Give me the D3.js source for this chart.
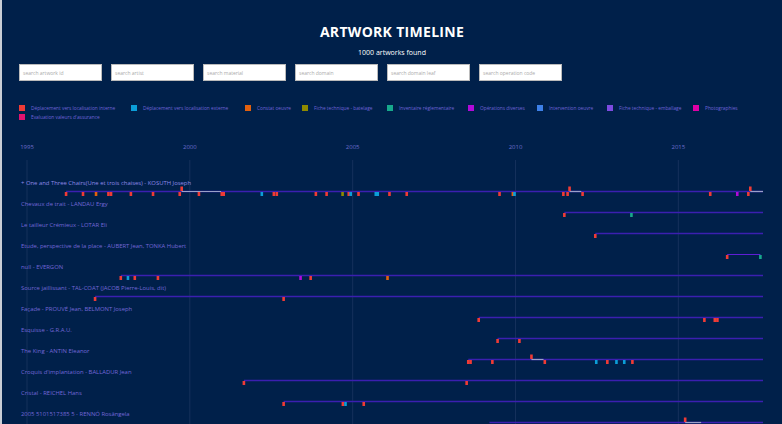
<!DOCTYPE html>
<html>
<head>
<meta charset="utf-8">
<script src="https://cdn.jsdelivr.net/npm/d3@7"></script>
<style>
  body { margin: 0; background: #00204a; font-family: "Open Sans", sans-serif; overflow: hidden; }
  #page { width: 782px; height: 424px; position: relative; border-left: 2px solid #c9ced6; box-sizing: border-box; }
  h1 { position: absolute; top: 22px; width: 100%; margin: 0; text-align: center; color: #fff; font-size: 14px; font-weight: 700; letter-spacing: 0.3px; }
  .count { position: absolute; top: 48px; width: 100%; text-align: center; color: #fff; font-size: 7px; }
  .search { position: absolute; top: 64px; height: 17px; width: 83px; background: #fff; border: 1px solid #bbb; box-sizing: border-box; font-size: 5px; color: #aaa; padding: 5px 3px; }
</style>
</head>
<body>
<div id="page">
  <h1>ARTWORK TIMELINE</h1>
  <div class="count">1000 artworks found</div>
  <svg id="chart" width="780" height="424" style="position:absolute;left:0;top:0"></svg>
</div>
<script>
const searchLabels = ["search artwork id", "search artist", "search material", "search domain", "search domain leaf", "search operation code"];

const eventTypes = ["Déplacement vers localisation interne", "Déplacement vers localisation externe", "Constat oeuvre", "Fiche technique - batelage", "Inventaire réglementaire", "Opérations diverses", "Intervention oeuvre", "Fiche technique - emballage", "Photographies", "Evaluation valeurs d'assurance"];
const eventColors = ["#ef3b36", "#0b9ed8", "#e2600e", "#8f8a00", "#17a98c", "#b10ad9", "#3d80e8", "#7d4be0", "#e000a6", "#e3136f"];

const years = [1995, 2000, 2005, 2010, 2015];

const artworks = ["+ One and Three Chairs(Une et trois chaises) - KOSUTH Joseph", "Chevaux de trait - LANDAU Ergy", "Le tailleur Crémieux - LOTAR Eli", "Etude, perspective de la place - AUBERT Jean, TONKA Hubert", "null - EVERGON", "Source jaillissant - TAL-COAT (JACOB Pierre-Louis, dit)", "Façade - PROUVÉ Jean, BELMONT Joseph", "Esquisse - G.R.A.U.", "The King - ANTIN Eleanor", "Croquis d'implantation - BALLADUR Jean", "Cristal - REICHEL Hans", "2005 5101517385 5 - RENNÓ Rosângela"];

// events per artwork: [decimal year, type index, span end (optional)]
const events = [
  [[1996.2,0],[1996.72,0],[1997.12,2],[1997.5,0],[1997.58,0],[1998.19,0],[1998.87,0],[1999.69,0],[1999.75,0,2000.96],[2000.28,0],[2000.98,0],[2001.04,0],[2002.21,1],[2002.58,0],[2002.67,0],[2003.87,0],[2004.2,0],[2004.69,3],[2004.88,0],[2004.94,1],[2005.18,0],[2005.71,1],[2005.77,1],[2006.13,0],[2006.66,0],[2009.51,0],[2009.92,2],[2009.97,1],[2011.47,0],[2011.6,0],[2011.66,0,2012.02],[2012.06,0],[2015.98,0],[2016.81,5],[2017.15,0],[2017.21,0,2017.6]],
  [[2011.5,0],[2013.56,4]],
  [[2012.45,0]],
  [[2016.5,0],[2017.52,4]],
  [[1997.88,0],[1998.1,1],[1998.31,0],[1999.02,0],[2003.4,5],[2003.71,0],[2006.07,2]],
  [[1997.09,0],[2002.88,0]],
  [[2008.87,0],[2015.8,0],[2016.12,0],[2016.2,0]],
  [[2009.45,0],[2010.12,0]],
  [[2008.55,0],[2008.62,0],[2009.29,0],[2010.49,0,2010.86],[2010.9,0],[2012.48,1],[2012.82,0],[2013.1,1],[2013.34,1],[2013.59,0]],
  [[2001.66,0],[2008.5,0]],
  [[2002.88,0],[2004.7,0],[2004.78,1],[2005.34,0]],
  [[2009.2,null],[2015.21,0,2015.7]]
];

const svg = d3.select("#chart");

// search boxes
d3.select("#page").selectAll("div.search").data(searchLabels).enter()
  .append("div").attr("class", "search")
  .style("left", function (d, i) { return (17 + i * 92) + "px"; })
  .text(function (d) { return d; });

// legend
const legendX = [17, 129, 243, 300, 385, 466, 535, 605, 691, 17];
const legend = svg.selectAll(".legend").data(eventTypes).enter()
  .append("g").attr("class", "legend")
  .attr("transform", function (d, i) { return "translate(" + legendX[i] + "," + (i < 9 ? 105 : 114) + ")"; });
legend.append("rect").attr("width", 6).attr("height", 6).attr("fill", function (d, i) { return eventColors[i]; });
legend.append("text").attr("x", 12).attr("y", 5).attr("font-size", 4.8).attr("fill", "#6f63d8").text(function (d) { return d; });

const x = d3.scaleLinear().domain([1995, 2017.6]).range([25, 761]);
const rowH = 21, top0 = 182;

// axis
svg.selectAll(".grid").data(years).enter().append("line")
  .attr("x1", function (d) { return x(d); }).attr("x2", function (d) { return x(d); })
  .attr("y1", 160).attr("y2", 424).attr("stroke", "#1a3560").attr("stroke-width", 0.8);
svg.selectAll(".tick").data(years).enter().append("text")
  .attr("x", function (d) { return x(d); }).attr("y", 149).attr("text-anchor", "middle")
  .attr("font-size", 6).attr("fill", "#6c6ccc").text(function (d) { return d; });

// rows
const rows = svg.selectAll(".row").data(artworks).enter().append("g")
  .attr("transform", function (d, i) { return "translate(0," + (top0 + i * rowH) + ")"; });

rows.append("text").attr("x", 19).attr("y", 2.5).attr("font-size", 5.9)
  .attr("fill", function (d, i) { return i === 0 ? "#8f8ae8" : "#7467d8"; })
  .text(function (d) { return d; });

rows.each(function (d, i) {
  const g = d3.select(this);
  const ev = events[i];
  const first = d3.min(ev, function (e) { return e[0]; });
  const short = i === 3;
  g.append("line").attr("x1", x(first)).attr("x2", short ? x(d3.max(ev, function (e) { return e[0]; })) : x(2017.6))
    .attr("y1", 9.5).attr("y2", 9.5)
    .attr("stroke", short ? "#6a1ee6" : "#3b1fb0").attr("stroke-width", short ? 0.9 : 1.3);
  ev.forEach(function (e) {
    if (e[1] === null) return;
    if (e.length > 2) {
      g.append("line").attr("x1", x(e[0])).attr("x2", x(e[2])).attr("y1", 9.5).attr("y2", 9.5)
        .attr("stroke", "#9aa0c8").attr("stroke-width", 1.2);
      g.append("rect").attr("x", x(e[0]) - 1.3).attr("y", 4.5).attr("width", 2.6).attr("height", 4.5)
        .attr("fill", eventColors[e[1]]);
    } else {
      g.append("rect").attr("x", x(e[0]) - 1.3).attr("y", 10).attr("width", 2.6).attr("height", 4)
        .attr("fill", eventColors[e[1]]);
    }
  });
});
</script>
</body>
</html>
